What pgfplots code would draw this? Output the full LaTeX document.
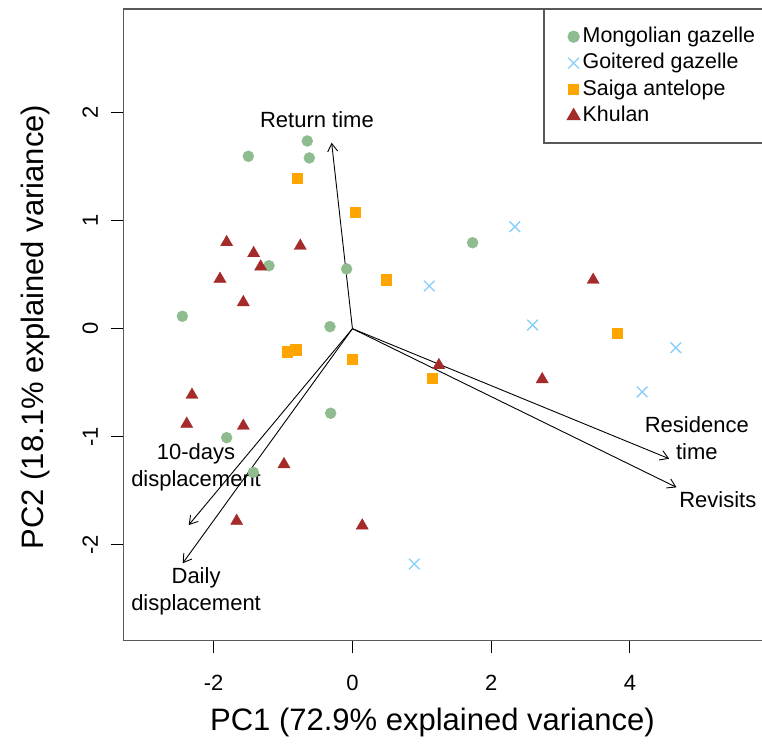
\documentclass[border=0pt]{standalone}
\usepackage{pgfplots}
\pgfplotsset{compat=1.18}
\usetikzlibrary{arrows.meta}
\usepackage{fontspec}
\setmainfont{Liberation Sans}

\definecolor{mgaz}{HTML}{8FBC8F}
\definecolor{ggaz}{HTML}{87CEFA}
\definecolor{saiga}{HTML}{FFA500}
\definecolor{khulan}{HTML}{A52A2A}

\pgfplotstableread{
x y
-0.651 1.738
-1.501 1.596
-0.622 1.581
-1.203 0.583
-0.084 0.553
-2.452 0.115
-0.324 0.019
-0.314 -0.783
-1.813 -1.009
-1.429 -1.330
1.732 0.796
}\mongolian

\pgfplotstableread{
x y
2.341 0.944
1.107 0.395
2.597 0.034
4.661 -0.176
4.176 -0.586
0.890 -2.179
}\goitered

\pgfplotstableread{
x y
-0.795 1.395
0.036 1.078
0.487 0.454
-0.939 -0.213
-0.818 -0.194
-0.007 -0.281
3.816 -0.043
1.146 -0.456
}\saiga

\pgfplotstableread{
x y
-1.813 0.800
-1.424 0.698
-0.752 0.766
-1.323 0.574
-1.909 0.460
-1.573 0.244
-2.313 -0.614
-2.389 -0.882
-1.573 -0.901
-0.987 -1.256
-1.669 -1.781
0.141 -1.824
3.470 0.451
1.246 -0.339
2.735 -0.469
}\khulan

\begin{document}
\begin{tikzpicture}
\path[use as bounding box] (-123.3bp,-106.3bp) rectangle (638.7bp,640.7bp);
\begin{axis}[
  at={(0,0)}, anchor=south west,
  scale only axis, width=645.4bp, height=631.7bp,
  xmin=-3.303, xmax=6.0, ymin=-2.889, ymax=2.960,
  xtick={-2,0,2,4}, ytick={-2,-1,0,1,2},
  xtick pos=left, ytick pos=left,
  tick align=outside, major tick length=12.5bp,
  tick style={black, line width=1bp},
  axis line style={black!65, line width=1.3bp},
  /pgf/number format/assume math mode=true,
  ticklabel style={font=\fontsize{22bp}{26bp}\selectfont},
  xticklabel style={anchor=center, yshift=-29.8bp},
  yticklabel style={anchor=center, xshift=-20.5bp, rotate=90},
  xlabel={PC1 (72.9\% explained variance)},
  ylabel={PC2 (18.1\% explained variance)},
  every axis x label/.style={at={(rel axis cs:0.479,0)}, yshift=-81.3bp, anchor=center, font=\fontsize{31bp}{36bp}\selectfont},
  every axis y label/.style={at={(rel axis cs:0,0.4966)}, xshift=-88.3bp, rotate=90, anchor=center, font=\fontsize{31bp}{36bp}\selectfont},
  legend cell align=left,
  legend image code/.code={\path (-29bp,0bp) (4bp,0bp); \draw[#1] plot coordinates {(0bp,0bp)};},
  legend style={at={(rel axis cs:0.6508,1)}, anchor=north west,
    draw=black!65, line width=1.3bp, inner xsep=0pt, inner ysep=17bp,
    font=\fontsize{21.4bp}{26bp}\selectfont, row sep=6.3bp, column sep=3bp,
    nodes={inner sep=0pt, text height=15.6bp, text depth=4.5bp}},
]
\addplot[only marks, mark=*, mark size=5.5bp, mgaz, mark options={draw=none, fill=mgaz}] table {\mongolian};
\addlegendentry{Mongolian gazelle\hspace*{30bp}}
\addplot[only marks, mark=x, mark size=7.5bp, ggaz, mark options={line width=1.3bp}] table {\goitered};
\addlegendentry{Goitered gazelle}
\addplot[only marks, mark=square*, mark size=5.2bp, saiga, mark options={draw=none, fill=saiga}] table {\saiga};
\addlegendentry{Saiga antelope}
\addplot[only marks, mark=triangle*, mark size=7bp, khulan, mark options={draw=none, fill=khulan}] table {\khulan};
\addlegendentry{Khulan}

\pgfplotsset{every axis plot/.append style={forget plot}}
\addplot[black, line width=0.9bp, -{Straight Barb[length=8bp,width=10bp]}] coordinates {(0,0) (-0.300,1.722)};
\addplot[black, line width=0.9bp, -{Straight Barb[length=8bp,width=10bp]}] coordinates {(0,0) (4.565,-1.204)};
\addplot[black, line width=0.9bp, -{Straight Barb[length=8bp,width=10bp]}] coordinates {(0,0) (4.671,-1.469)};
\addplot[black, line width=0.9bp, -{Straight Barb[length=8bp,width=10bp]}] coordinates {(0,0) (-2.360,-1.818)};
\addplot[black, line width=0.9bp, -{Straight Barb[length=8bp,width=10bp]}] coordinates {(0,0) (-2.447,-2.172)};

\node[font=\fontsize{22bp}{27bp}\selectfont, align=center] at (axis cs:-0.512,1.932) {Return time};
\node[font=\fontsize{22bp}{27bp}\selectfont, align=center] at (axis cs:4.964,-1.012) {Residence\\time};
\node[font=\fontsize{22bp}{27bp}\selectfont, align=center] at (axis cs:5.267,-1.586) {Revisits};
\node[font=\fontsize{22bp}{27bp}\selectfont, align=center] at (axis cs:-2.254,-1.284) {10-days\\displacement};
\node[font=\fontsize{22bp}{27bp}\selectfont, align=center] at (axis cs:-2.254,-2.429) {Daily\\displacement};
\end{axis}
\end{tikzpicture}
\end{document}
